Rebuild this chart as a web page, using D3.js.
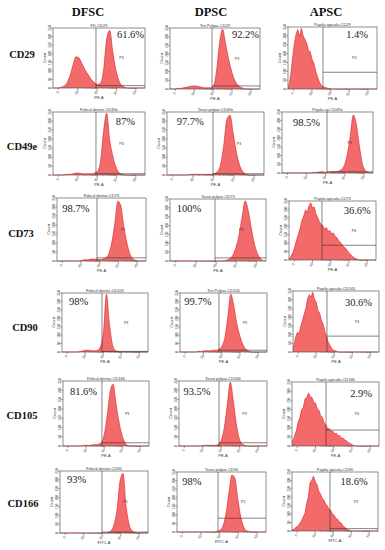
<!DOCTYPE html>
<html><head><meta charset="utf-8">
<script src="https://cdn.jsdelivr.net/npm/d3@7"></script>
<style>body{margin:0;background:#fff}svg{display:block}</style>
</head><body><svg id="c" width="385" height="550"></svg>
<script>
// ---------- DATA ----------
const columns = ["DFSC", "DPSC", "APSC"];
const markers = ["CD29", "CD49e", "CD73", "CD90", "CD105", "CD166"];
const titles = [
  ["FD-CD29", "Tes Pulpar-CD29", "Papila apicala-CD29"],
  ["Folicul dentar-CD49e", "Tesut pulpar-CD49e", "Papila ap-CD49e"],
  ["Folicul dentar-CD73", "Tesut pulpar-CD73", "Papila apicala-CD73"],
  ["Folicul dentar-CD105", "Tes Pulpar-CD105", "Papila apicala-CD105"],
  ["Folicul dentar-CD166", "Tesut pulpar-CD166", "Papila apicala-CD166"],
  ["Folicul dentar-CD90", "Tesut pulpar-CD90", "Papila apicala-CD90"]
];
const percents = [
  ["61.6%", "92.2%", "1.4%"],
  ["87%", "97.7%", "98.5%"],
  ["98.7%", "100%", "36.6%"],
  ["98%", "99.7%", "30.6%"],
  ["81.6%", "93.5%", "2.9%"],
  ["93%", "98%", "18.6%"]
];
const gateNames = [
  ["P3", "P3", "P4"], ["P3", "P3", "P3"], ["P1", "P3", "P4"],
  ["P3", "P3", "P4"], ["P3", "P3", "P4"], ["P1", "P2", "P2"]
];
const axisNames = ["PE-A", "PE-A", "PE-A", "PE-A", "PE-A", "FITC-A"];
// gate thresholds on the normalised fluorescence axis (0..1)
const gateX = [
  [0.467, 0.467, 0.393], [0.467, 0.474, 0.495], [0.449, 0.469, 0.379],
  [0.465, 0.448, 0.395], [0.453, 0.455, 0.391], [0.477, 0.461, 0.442]
];
// horizontal gate level (count, % of scale)
const gateY = [
  [4, 5, 27], [2, 2, 2], [5, 5, 25],
  [1, 3, 26], [5, 5, 25], [1.5, 23, 4]
];
const xTickLabels = ["0", "10²", "10³", "10⁴", "10⁵"];
const yTickLabels = ["0", "50", "100", "150", "200", "250", "300", "350"];

// histogram counts (% of axis max), left -> right along the fluorescence axis
const cd29_dfsc  = [0,0,1,3,8,20,38,52,50,40,30,22,14,9,6,8,30,82,96,60,30,12,4,1,0,0,0,0,0,0];
const cd29_dpsc  = [0,0,1,1,2,3,4,5,5,4,3,2,2,2,5,30,75,98,75,50,30,15,7,3,1,0,0,0,0,0];
const cd29_apsc  = [5,22,48,72,88,96,84,98,86,80,74,62,60,48,42,30,20,12,7,4,3,2,1,1,0,0,0,0,0,0,0,0,0,0,0,0,0,0,0,0,0,0,0,0,0,0,0,0,0,0];
const cd49e_dfsc = [0,0,0,0,1,1,2,3,3,2,2,2,2,3,6,22,70,98,55,30,13,4,1,0,0,0,0,0,0,0];
const cd49e_dpsc = [0,0,0,0,0,0,0,1,1,1,1,1,1,1,2,5,15,45,88,95,65,35,15,5,1,0,0,0,0,0];
const cd49e_apsc = [0,0,0,0,0,0,0,0,0,0,1,1,2,2,1,1,2,2,3,5,12,30,60,95,80,45,15,4,1,0];
const cd73_dfsc  = [0,0,0,0,0,0,0,0,1,2,2,3,3,3,2,3,5,12,30,60,95,88,55,30,12,4,1,0,0,0];
const cd73_dpsc  = [0,0,0,0,0,0,0,0,0,0,0,0,0,0,0,0,0,1,3,8,20,40,70,97,80,50,25,10,3,0];
const cd73_apsc  = [3,8,15,25,35,45,55,68,75,85,80,92,97,88,90,78,72,65,60,58,52,55,48,50,44,46,40,38,33,30,26,22,20,16,12,9,6,4,2,1,0,0,0,0,0,0,0,0,0,0];
const cd90_dfsc  = [0,0,0,0,0,0,1,2,3,3,2,2,3,10,35,98,50,15,3,1,0,0,0,0,0,0,0,0,0,0];
const cd90_dpsc  = [0,0,0,0,0,0,1,1,2,2,2,3,3,5,10,25,60,98,80,50,30,15,6,2,0,0,0,0,0,0];
const cd90_apsc  = [10,24,32,30,42,52,62,72,88,94,90,98,86,82,68,64,52,46,34,26,16,11,6,3,2,1,0,0,0,0,0,0,0,0,0,0,0,0,0,0,0,0,0,0,0,0,0,0,0,0];
const cd105_dfsc = [0,0,0,0,0,0,0,1,1,1,2,2,3,6,20,50,85,95,65,38,18,6,1,0,0,0,0,0,0,0];
const cd105_dpsc = [0,0,0,0,0,0,0,0,1,1,1,1,1,3,10,30,65,98,70,35,12,3,1,0,0,0,0,0,0,0];
const cd105_apsc = [8,16,24,37,44,57,60,74,76,83,77,76,68,67,58,56,47,45,36,33,27,27,23,23,19,20,16,16,12,12,9,8,5,4,2,1,0,0,0,0,0,0,0,0,0,0,0,0,0,0];
const cd166_dfsc = [0,0,0,0,0,0,0,0,0,0,0,0,0,0,0,0,1,4,15,40,85,96,45,15,4,1,0,0,0,0];
const cd166_dpsc = [0,0,0,0,0,0,0,0,0,0,0,0,0,1,3,10,30,65,95,90,55,25,8,2,1,0,0,0,0,0];
const cd166_apsc = [2,4,7,8,13,17,24,30,46,58,82,86,93,84,79,68,63,56,53,46,43,37,35,29,27,21,20,15,14,9,7,4,2,1,0,0,0,0,0,0,0,0,0,0,0,0,0,0,0,0];

const series = [
  [cd29_dfsc, cd29_dpsc, cd29_apsc],
  [cd49e_dfsc, cd49e_dpsc, cd49e_apsc],
  [cd73_dfsc, cd73_dpsc, cd73_apsc],
  [cd90_dfsc, cd90_dpsc, cd90_apsc],
  [cd105_dfsc, cd105_dpsc, cd105_apsc],
  [cd166_dfsc, cd166_dpsc, cd166_apsc]
];

// ---------- LAYOUT ----------
const boxes = [
  [[53,28,145,88],[170,28,260,89],[288,27,377,89]],
  [[53,112,145,175],[167,112,264,175],[282,112,373,173]],
  [[57,198,146,261],[170,199,266,261],[289,201,376,260]],
  [[62,293,148,352],[180,293,267,352],[293,291,379,352]],
  [[63,381,149,446],[179,381,267,446],[292,382,379,446]],
  [[60,471,148,533],[177,472,266,532],[292,472,378,531]]
];
// percent label: [anchor, x fraction, baseline offset from top]
const pctPos = [
  [["end",0.99,10],["end",0.99,10],["end",0.9,11]],
  [["end",0.89,13],["start",0.1,13],["start",0.12,14]],
  [["start",0.06,14],["start",0.07,13],["end",0.94,13]],
  [["start",0.08,12],["start",0.05,12],["end",0.92,15]],
  [["start",0.08,14],["start",0.05,14],["end",0.92,15]],
  [["start",0.08,12],["start",0.06,13],["end",0.88,13]]
];
const colHeadX = [88, 211, 326];
const rowLabelY = [58, 150, 237, 331, 419, 507];
const rowLabelX = [22, 22, 21, 25, 22, 23];
const xTickPos = [0.06, 0.27, 0.48, 0.69, 0.9];

const svg = d3.select("#c");
const serif = "'Liberation Serif','Times New Roman',serif";
const sans = "'Liberation Sans',Arial,sans-serif";

svg.selectAll("text.col").data(columns).join("text")
  .attr("class","col").attr("x",(d,i)=>colHeadX[i]).attr("y",16)
  .attr("text-anchor","middle").attr("font-family",serif).attr("font-weight","bold")
  .attr("font-size",12.5).attr("fill","#111").text(d=>d);

svg.selectAll("text.row").data(markers).join("text")
  .attr("class","row").attr("x",(d,i)=>rowLabelX[i]).attr("y",(d,i)=>rowLabelY[i])
  .attr("text-anchor","middle").attr("font-family",serif).attr("font-weight","bold")
  .attr("font-size",10.5).attr("fill","#111").text(d=>d);

const frame = "#444";

series.forEach((rowS, r) => rowS.forEach((vals, c) => {
  const [x0, y0, x1, y1] = boxes[r][c];
  const g = svg.append("g");
  const fx = d3.scaleLinear().domain([0,1]).range([x0, x1]);
  const n = vals.length;
  const xb = d3.scaleLinear().domain([0, n]).range([x0, x1]);
  const y = d3.scaleLinear().domain([0, 100]).range([y1, y0]);

  const pts = [[0, vals[0]]].concat(vals.map((v,i)=>[i+0.5, v])).concat([[n, vals[n-1]]]);
  const curve = n > 40 ? d3.curveLinear : d3.curveMonotoneX;
  const area = d3.area().x(d=>xb(d[0])).y0(y(0)).y1(d=>y(d[1])).curve(curve);
  const line = d3.line().x(d=>xb(d[0])).y(d=>y(d[1])).curve(curve);

  g.append("path").attr("d", area(pts)).attr("fill", "#f36a6a");
  g.append("path").attr("d", line(pts)).attr("fill","none").attr("stroke","#de1d24").attr("stroke-width",0.6);

  // frame
  g.append("rect").attr("x",x0).attr("y",y0).attr("width",x1-x0).attr("height",y1-y0)
    .attr("fill","none").attr("stroke",frame).attr("stroke-width",0.6);

  // gates
  const gx = fx(gateX[r][c]);
  g.append("line").attr("x1",gx).attr("x2",gx).attr("y1",y0).attr("y2",y1)
    .attr("stroke","#333").attr("stroke-width",0.6);
  g.append("line").attr("x1",gx).attr("x2",x1).attr("y1",y(gateY[r][c])).attr("y2",y(gateY[r][c]))
    .attr("stroke","#333").attr("stroke-width",0.6);
  g.append("text").attr("x",fx(0.72)).attr("y",(y0+y1)/2+1).attr("font-family",sans)
    .attr("font-size",3.6).attr("fill","#333").text(gateNames[r][c]);

  // y axis
  const yt = d3.range(yTickLabels.length).map(i => y0 + (y1-y0) * (1 - i/(yTickLabels.length-1)));
  yt.forEach((ty,i) => {
    g.append("line").attr("x1",x0-1.8).attr("x2",x0).attr("y1",ty).attr("y2",ty).attr("stroke",frame).attr("stroke-width",0.5);
    g.append("text").attr("transform",`translate(${x0-2.5},${ty}) rotate(-90)`).attr("text-anchor","middle")
      .attr("font-family",sans).attr("font-size",3.2).attr("fill","#444").text(yTickLabels[i]);
  });
  g.append("text").attr("transform",`translate(${x0-7},${(y0+y1)/2}) rotate(-90)`).attr("text-anchor","middle")
    .attr("font-family",sans).attr("font-size",4).attr("fill","#333").text("Count");

  // x axis
  xTickPos.forEach((p,i) => {
    const tx = fx(p);
    g.append("line").attr("x1",tx).attr("x2",tx).attr("y1",y1).attr("y2",y1+2).attr("stroke",frame).attr("stroke-width",0.5);
    g.append("text").attr("transform",`translate(${tx},${y1+5}) rotate(-55)`).attr("text-anchor","middle")
      .attr("font-family",sans).attr("font-size",3.6).attr("fill","#444").text(xTickLabels[i]);
    if (i > 0 && i < xTickPos.length - 1) {
      [2,3,4,5,6,7,8,9].forEach(m => {
        const mx = fx(p + (xTickPos[i+1]-p) * Math.log10(m));
        g.append("line").attr("x1",mx).attr("x2",mx).attr("y1",y1).attr("y2",y1+1).attr("stroke",frame).attr("stroke-width",0.4);
      });
    }
  });
  g.append("text").attr("x",(x0+x1)/2).attr("y",y1+10.5).attr("text-anchor","middle")
    .attr("font-family",sans).attr("font-size",4).attr("fill","#333").text(axisNames[r]);

  // title
  g.append("text").attr("x",(x0+x1)/2).attr("y",y0-1.5).attr("text-anchor","middle")
    .attr("font-family",sans).attr("font-size",4).attr("fill","#333").text(titles[r][c]);

  // percent
  const [anc, pf, off] = pctPos[r][c];
  g.append("text").attr("x",fx(pf)).attr("y",y0+off).attr("text-anchor",anc)
    .attr("font-family",serif).attr("font-size",10.5).attr("fill","#222").text(percents[r][c]);
}));
</script>
</body></html>
